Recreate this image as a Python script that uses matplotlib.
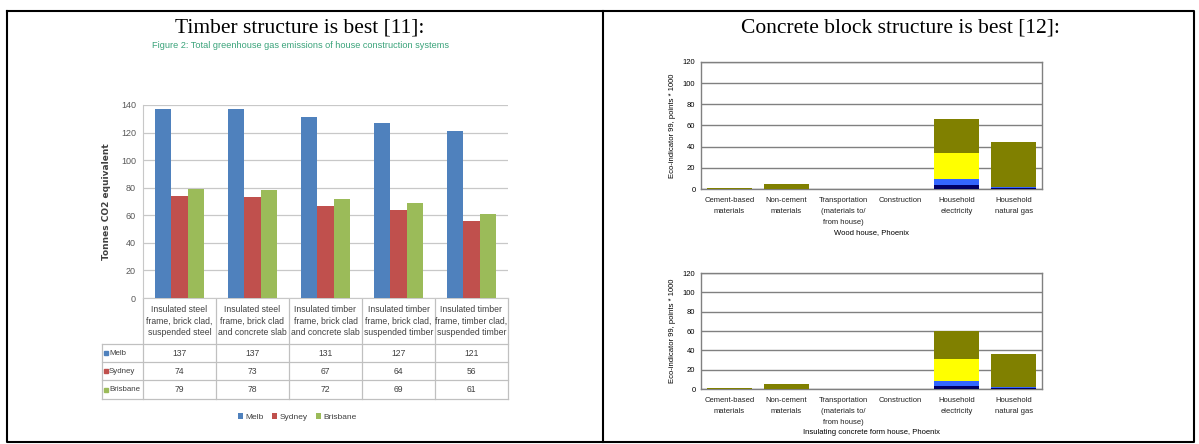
import numpy as np
import matplotlib
matplotlib.use("Agg")
import matplotlib.pyplot as plt

# ---- data: left chart (total greenhouse gas emissions) ----
systems = ["Insulated steel\nframe, brick clad,\nsuspended steel",
           "Insulated steel\nframe, brick clad\nand concrete slab",
           "Insulated timber\nframe, brick clad\nand concrete slab",
           "Insulated timber\nframe, brick clad,\nsuspended timber",
           "Insulated timber\nframe, timber clad,\nsuspended timber"]
cities = ["Melb", "Sydney", "Brisbane"]
melb = [137, 137, 131, 127, 121]
sydney = [74, 73, 67, 64, 56]
brisbane = [79, 78, 72, 69, 61]
city_colors = ["#4f81bd", "#c0504d", "#9bbb59"]

# ---- data: right charts (Eco-indicator 99) ----
stages = ["Cement-based\nmaterials", "Non-cement\nmaterials",
          "Transportation\n(materials to/\nfrom house)", "Construction",
          "Household\nelectricity", "Household\nnatural gas"]
wood_navy = [0, 0, 0, 0, 3.5, 1.0]
wood_blue = [0, 0, 0, 0, 6.0, 1.0]
wood_yellow = [0, 0, 0, 0, 24.5, 0]
wood_olive = [0.8, 4.7, 0.3, 0, 32.0, 42.0]
icf_navy = [0, 0, 0, 0, 3.0, 0.8]
icf_blue = [0, 0, 0, 0, 5.0, 0.8]
icf_yellow = [0, 0, 0, 0, 23.0, 0]
icf_olive = [1.0, 5.5, 0.5, 0, 29.0, 34.4]
stack_colors = ["#000066", "#3366ff", "#ffff00", "#808000"]

W, H = 1199, 444
fig = plt.figure(figsize=(W / 100, H / 100), dpi=100)
narrow = ["Liberation Sans Narrow", "Liberation Sans", "DejaVu Sans"]


def box(x0, y0, x1, y1):
    return [x0 / W, 1 - y1 / H, (x1 - x0) / W, (y1 - y0) / H]


# overlay in pixel coordinates for frame, titles and the data table
ov = fig.add_axes([0, 0, 1, 1])
ov.set_xlim(0, W)
ov.set_ylim(H, 0)
ov.axis("off")
ov.plot([7, 1194, 1194, 7, 7], [11, 11, 442, 442, 11], color="black", lw=1.5)
ov.plot([603, 603], [11, 442], color="black", lw=1.5)
ov.text(300, 28, "Timber structure is best [11]:", family="Liberation Serif",
        fontsize=15.5, ha="center", va="center")
ov.text(900, 28, "Concrete block structure is best [12]:", family="Liberation Serif",
        fontsize=15.5, ha="center", va="center")
ov.text(300, 46, "Figure 2: Total greenhouse gas emissions of house construction systems",
        family=narrow, fontsize=6.6, color="#3aa37a", ha="center", va="center")

# ---- left chart ----
ax = fig.add_axes(box(143, 105, 508, 298))
x = np.arange(len(systems))
bw = 0.22
handles = []
for i, (vals, name) in enumerate(zip([melb, sydney, brisbane], cities)):
    b = ax.bar(x + (i - 1) * bw, vals, bw, color=city_colors[i], label=name, zorder=3)
    handles.append(b)
ax.set_xlim(-0.5, len(systems) - 0.5)
ax.set_ylim(0, 140)
ax.set_yticks(range(0, 141, 20))
ax.set_xticks([])
ax.tick_params(axis="y", length=0, labelsize=6.5, labelcolor="#595959", pad=5)
for lab in ax.get_yticklabels():
    lab.set_family(narrow)
ax.grid(axis="y", color="#c8c8c8", lw=0.9, zorder=0)
for s in ["top", "right"]:
    ax.spines[s].set_visible(False)
ax.spines["left"].set_color("#c8c8c8")
ax.spines["bottom"].set_color("#c8c8c8")
ax.set_ylabel("Tonnes CO2 equivalent", fontsize=6.5, fontweight="bold",
              color="#404040", labelpad=7)

# data table under the left chart
col_edges = np.linspace(143, 508, len(systems) + 1)
row_edges = [298, 344, 362, 380, 399]
tc = "#c0c0c0"
for y in row_edges[1:]:
    ov.plot([102, 508], [y, y], color=tc, lw=0.9)
ov.plot([102, 102], [344, 399], color=tc, lw=0.9)
for xe in col_edges:
    ov.plot([xe, xe], [298, 399], color=tc, lw=0.9)
for j, lab in enumerate(systems):
    cx = (col_edges[j] + col_edges[j + 1]) / 2
    ov.text(cx, 321, lab, family=narrow, fontsize=6.2, color="#404040",
            ha="center", va="center", linespacing=1.35)
for i, vals in enumerate([melb, sydney, brisbane]):
    cy = (row_edges[i + 1] + row_edges[i + 2]) / 2
    ov.plot(106, cy, marker="s", ms=3, color=city_colors[i], ls="none")
    ov.text(109, cy, cities[i], family=narrow, fontsize=5.7, color="#404040",
            ha="left", va="center")
    for j, v in enumerate(vals):
        cx = (col_edges[j] + col_edges[j + 1]) / 2
        ov.text(cx, cy, str(v), family=narrow, fontsize=6.2, color="#404040",
                ha="center", va="center")

leg = fig.legend(handles=handles, loc="center", bbox_to_anchor=(297 / W, 1 - 417 / H),
                 ncol=3, frameon=False, handlelength=0.6, handleheight=0.6,
                 handletextpad=0.3, columnspacing=1.0, prop={"family": narrow, "size": 6})
for t in leg.get_texts():
    t.set_color("#404040")


# ---- right charts ----
def stacked(rect, layers, caption):
    a = fig.add_axes(rect)
    pos = np.arange(len(stages))
    bottom = np.zeros(len(stages))
    for vals, c in zip(layers, stack_colors):
        a.bar(pos, vals, 0.8, bottom=bottom, color=c, zorder=3)
        bottom += np.array(vals)
    a.set_xlim(-0.5, len(stages) - 0.5)
    a.set_ylim(0, 120)
    a.set_yticks(range(0, 121, 20))
    a.set_xticks(pos)
    a.set_xticklabels(stages, family="Liberation Sans", fontsize=5.5,
                      color="#222222", linespacing=1.75)
    a.tick_params(axis="x", length=0, pad=6)
    a.tick_params(axis="y", length=0, pad=4, labelsize=5.5)
    for lab in a.get_yticklabels():
        lab.set_family("Liberation Sans")
    a.grid(axis="y", color="#808080", lw=1.0, zorder=0)
    for s in a.spines.values():
        s.set_color("#808080")
        s.set_linewidth(1.0)
    a.set_ylabel("Eco-indicator 99, points * 1000", family="Liberation Sans",
                 fontsize=5.5, labelpad=5)
    a.set_xlabel(caption, family="Liberation Sans", fontsize=5.5, labelpad=2)
    return a


stacked(box(701, 62, 1042, 189), [wood_navy, wood_blue, wood_yellow, wood_olive],
        "Wood house, Phoenix")
stacked(box(701, 273, 1042, 389), [icf_navy, icf_blue, icf_yellow, icf_olive],
        "Insulating concrete form house, Phoenix")

fig.savefig("out.png", dpi=100)
